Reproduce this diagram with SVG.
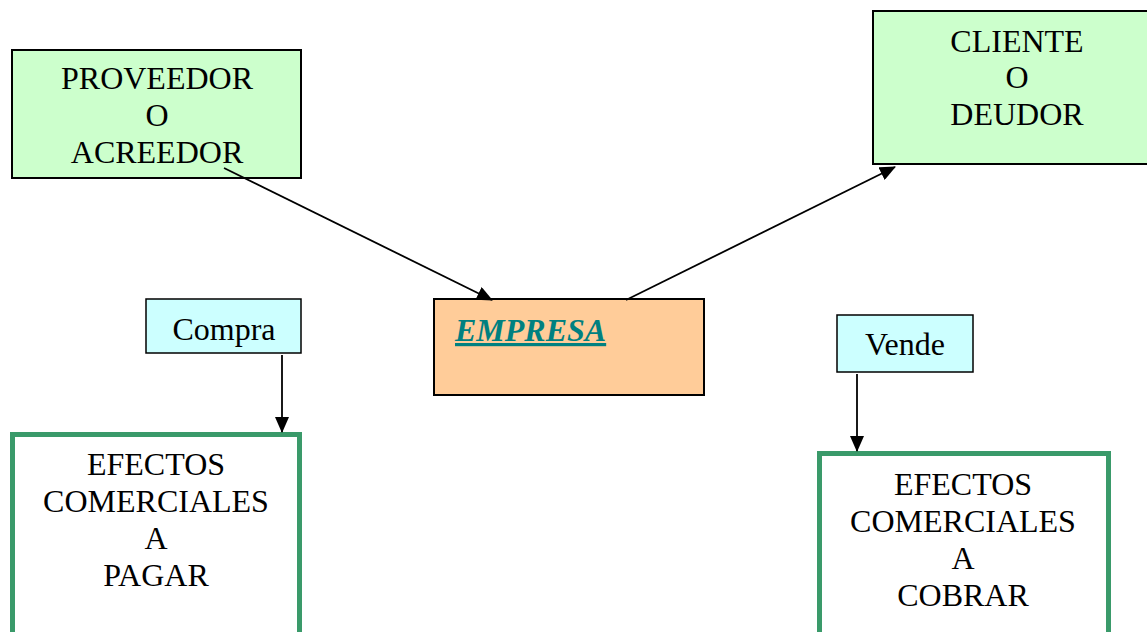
<svg xmlns="http://www.w3.org/2000/svg" width="1147" height="632" viewBox="0 0 1147 632">
<style>
text{font-family:"Liberation Serif","Times New Roman",serif;font-size:32px;fill:#000;text-anchor:middle}
.green{fill:#CCFFCC;stroke:#000;stroke-width:2}
.cyan{fill:#CCFFFF;stroke:#000;stroke-width:1.5}
.out{fill:#fff;stroke:#3A9A6A;stroke-width:5}
.conn{stroke:#000;stroke-width:1.8;fill:none;marker-end:url(#ah)}
</style>
<defs>
<marker id="ah" markerUnits="userSpaceOnUse" markerWidth="16" markerHeight="14" refX="15" refY="7" orient="auto">
<path d="M0,0 L16,7 L0,14 Z" fill="#000"/>
</marker>
</defs>
<rect width="1147" height="632" fill="#fff"/>
<g id="proveedor">
<rect class="green" x="12" y="50" width="289" height="128"/>
<text x="157" y="89">PROVEEDOR</text>
<text x="157" y="126">O</text>
<text x="157" y="163">ACREEDOR</text>
</g>
<g id="cliente">
<rect class="green" x="873" y="11" width="290" height="153"/>
<text x="1017" y="52">CLIENTE</text>
<text x="1017" y="88">O</text>
<text x="1017" y="125">DEUDOR</text>
</g>
<g id="empresa">
<rect x="434" y="299" width="270" height="96" fill="#FFCC99" stroke="#000" stroke-width="2"/>
<text x="455" y="341" style="text-anchor:start;font-weight:bold;font-style:italic;fill:#008080;text-decoration:underline">EMPRESA</text>
</g>
<g id="compra">
<rect class="cyan" x="146" y="299" width="155" height="54"/>
<text x="224" y="340">Compra</text>
</g>
<g id="vende">
<rect class="cyan" x="837" y="315" width="136" height="57"/>
<text x="905" y="355">Vende</text>
</g>
<g id="efectos-pagar">
<rect class="out" x="12.5" y="434.5" width="287" height="250"/>
<text x="156" y="475">EFECTOS</text>
<text x="156" y="512">COMERCIALES</text>
<text x="156" y="549">A</text>
<text x="156" y="586">PAGAR</text>
</g>
<g id="efectos-cobrar">
<rect class="out" x="819.5" y="453.5" width="289" height="250"/>
<text x="963" y="495">EFECTOS</text>
<text x="963" y="532">COMERCIALES</text>
<text x="963" y="569">A</text>
<text x="963" y="606">COBRAR</text>
</g>
<g id="connectors">
<line class="conn" x1="224" y1="168" x2="492" y2="300"/>
<line class="conn" x1="626" y1="300" x2="895" y2="167"/>
<line class="conn" x1="282" y1="355" x2="282" y2="432"/>
<line class="conn" x1="857" y1="374" x2="857" y2="451"/>
</g>
</svg>
